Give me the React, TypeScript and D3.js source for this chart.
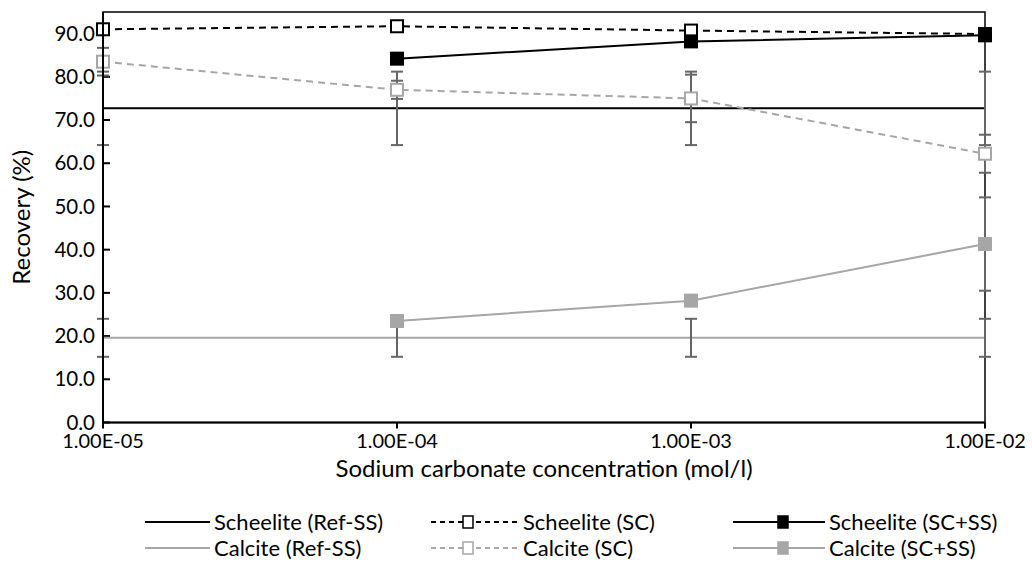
import React from "react";
import * as d3 from "d3";

const xValues = [1e-5, 1e-4, 1e-3, 1e-2];
const xTickLabels = ["1.00E-05", "1.00E-04", "1.00E-03", "1.00E-02"];
const yTicks = [0, 10, 20, 30, 40, 50, 60, 70, 80, 90];

const scheeliteRef = [72.7, 72.7, 72.7, 72.7];
const scheeliteRefErr = [8.5, 8.5, 8.5, 8.5];
const calciteRef = [19.6, 19.6, 19.6, 19.6];
const calciteRefErr = [4.4, 4.4, 4.4, 4.4];
const scheeliteSC = [91.0, 91.7, 90.7, 89.9];
const calciteSC = [83.5, 77.0, 75.0, 62.2];
const calciteSCErr = [3.2, 2.1, 5.5, 4.4];
const scheeliteSCSS = [null, 84.2, 88.2, 89.6];
const calciteSCSS = [null, 23.5, 28.2, 41.3];
const calciteSCSSErr = [null, 1.0, 1.0, 10.8];

const FONT = "Lato, 'Open Sans', sans-serif";
const BLACK = "#000000";
const GRAY = "#A6A6A6";
const ERR = "#666666";

type Pt = { x: number; y: number };

export default function App() {
  const W = 1032;
  const H = 567;
  const left = 103;
  const right = 985;
  const top = 12;
  const bottom = 422.5;
  const x = d3.scaleLog().domain([1e-5, 1e-2]).range([left, right]);
  const y = d3.scaleLinear().domain([0, 95]).range([bottom, top]);

  const toPts = (vals: (number | null)[]): Pt[] =>
    vals
      .map((v, i) => (v == null ? null : { x: x(xValues[i]), y: y(v) }))
      .filter((p): p is Pt => p !== null);

  const line = d3
    .line<Pt>()
    .x((d) => d.x)
    .y((d) => d.y);

  const errBars = (vals: (number | null)[], errs: (number | null)[], key: string) =>
    vals.map((v, i) => {
      const e = errs[i];
      if (v == null || e == null) return null;
      const cx = x(xValues[i]);
      const y1 = y(v + e);
      const y2 = y(v - e);
      return (
        <g key={key + i} stroke={ERR} strokeWidth={2}>
          <line x1={cx} x2={cx} y1={y1} y2={y2} />
          <line x1={cx - 6} x2={cx + 6} y1={y1} y2={y1} />
          <line x1={cx - 6} x2={cx + 6} y1={y2} y2={y2} />
        </g>
      );
    });

  const squares = (
    vals: (number | null)[],
    stroke: string,
    fill: string,
    key: string
  ) =>
    toPts(vals).map((p, i) => (
      <rect
        key={key + i}
        x={p.x - 6}
        y={p.y - 6}
        width={12}
        height={12}
        fill={fill}
        stroke={stroke}
        strokeWidth={2}
      />
    ));

  const legendRows = [
    [
      { label: "Scheelite (Ref-SS)", color: BLACK, dash: null, marker: null },
      { label: "Scheelite (SC)", color: BLACK, dash: "5,4", marker: "open" },
      { label: "Scheelite (SC+SS)", color: BLACK, dash: null, marker: "filled" },
    ],
    [
      { label: "Calcite (Ref-SS)", color: GRAY, dash: null, marker: null },
      { label: "Calcite (SC)", color: GRAY, dash: "5,4", marker: "open" },
      { label: "Calcite (SC+SS)", color: GRAY, dash: null, marker: "filled" },
    ],
  ];
  const legendColX = [145, 431, 733];
  const legendSampleW = [65, 88, 92];
  const legendMarkerOffset = [0, 37, 50];
  const legendRowY = [522, 548];

  return (
    <svg width={W} height={H} style={{ position: "absolute", left: 0, top: 0, background: "#fff" }}>
      <rect x={0} y={0} width={W} height={H} fill="#fff" />
      {/* plot border */}
      <rect x={left} y={top} width={right - left} height={bottom - top} fill="none" stroke={BLACK} strokeWidth={1.5} />

      {/* y ticks inside */}
      {yTicks.map((t) => (
        <g key={"yt" + t}>
          <line x1={left} x2={left + 7} y1={y(t)} y2={y(t)} stroke={BLACK} strokeWidth={2} />
          <text
            x={left - 8}
            y={y(t)}
            dy="0.35em"
            textAnchor="end"
            fontFamily={FONT}
            fontSize={20.5}
            fill="#000"
          >
            {t.toFixed(1)}
          </text>
        </g>
      ))}

      {/* x ticks */}
      {xValues.map((v, i) => (
        <g key={"xt" + i}>
          <line x1={x(v)} x2={x(v)} y1={bottom} y2={bottom + 6} stroke={BLACK} strokeWidth={2} />
          <text
            x={x(v)}
            y={bottom + 18}
            dy="0.35em"
            textAnchor="middle"
            fontFamily={FONT}
            fontSize={20}
            fill="#000"
          >
            {xTickLabels[i]}
          </text>
        </g>
      ))}

      {/* ref lines */}
      <path d={line(toPts(scheeliteRef)) || ""} fill="none" stroke={BLACK} strokeWidth={2} />
      {errBars(scheeliteRef, scheeliteRefErr, "sre")}
      <path d={line(toPts(calciteRef)) || ""} fill="none" stroke={GRAY} strokeWidth={2} />
      {errBars(calciteRef, calciteRefErr, "cre")}

      {/* SC series */}
      <path d={line(toPts(scheeliteSC)) || ""} fill="none" stroke={BLACK} strokeWidth={2} strokeDasharray="7,5" />
      {squares(scheeliteSC, BLACK, "#fff", "ssc")}
      <path d={line(toPts(calciteSC)) || ""} fill="none" stroke={GRAY} strokeWidth={2} strokeDasharray="7,5" />
      {errBars(calciteSC, calciteSCErr, "cse")}
      {squares(calciteSC, GRAY, "#fff", "csc")}

      {/* SC+SS series */}
      <path d={line(toPts(scheeliteSCSS)) || ""} fill="none" stroke={BLACK} strokeWidth={2} />
      {squares(scheeliteSCSS, BLACK, BLACK, "sss")}
      <path d={line(toPts(calciteSCSS)) || ""} fill="none" stroke={GRAY} strokeWidth={2} />
      {errBars(calciteSCSS, calciteSCSSErr, "csse")}
      {squares(calciteSCSS, GRAY, GRAY, "css")}

      {/* axes */}
      <line x1={left} x2={left} y1={top} y2={bottom} stroke={BLACK} strokeWidth={2} />
      <line x1={left} x2={right} y1={bottom} y2={bottom} stroke={BLACK} strokeWidth={2} />

      {/* axis titles */}
      <text
        x={544}
        y={469}
        dy="0.35em"
        textAnchor="middle"
        fontFamily={FONT}
        fontSize={24}
        fill="#000"
      >
        Sodium carbonate concentration (mol/l)
      </text>
      <text
        transform={`translate(22,${(top + bottom) / 2}) rotate(-90)`}
        dy="0.35em"
        textAnchor="middle"
        fontFamily={FONT}
        fontSize={24}
        fill="#000"
      >
        Recovery (%)
      </text>

      {/* legend */}
      {legendRows.map((row, ri) =>
        row.map((item, ci) => {
          const lx = legendColX[ci];
          const w = legendSampleW[ci];
          const ly = legendRowY[ri];
          const mx = lx + legendMarkerOffset[ci];
          return (
            <g key={"lg" + ri + ci}>
              <line
                x1={lx}
                x2={lx + w}
                y1={ly}
                y2={ly}
                stroke={item.color}
                strokeWidth={2}
                strokeDasharray={item.dash || undefined}
              />
              {item.marker && (
                <rect
                  x={mx - 5}
                  y={ly - 6}
                  width={10}
                  height={12}
                  fill={item.marker === "filled" ? item.color : "#fff"}
                  stroke={item.color}
                  strokeWidth={1.5}
                />
              )}
              <text
                x={lx + w + 4}
                y={ly}
                dy="0.35em"
                fontFamily={FONT}
                fontSize={22}
                fill="#000"
              >
                {item.label}
              </text>
            </g>
          );
        })
      )}
    </svg>
  );
}
